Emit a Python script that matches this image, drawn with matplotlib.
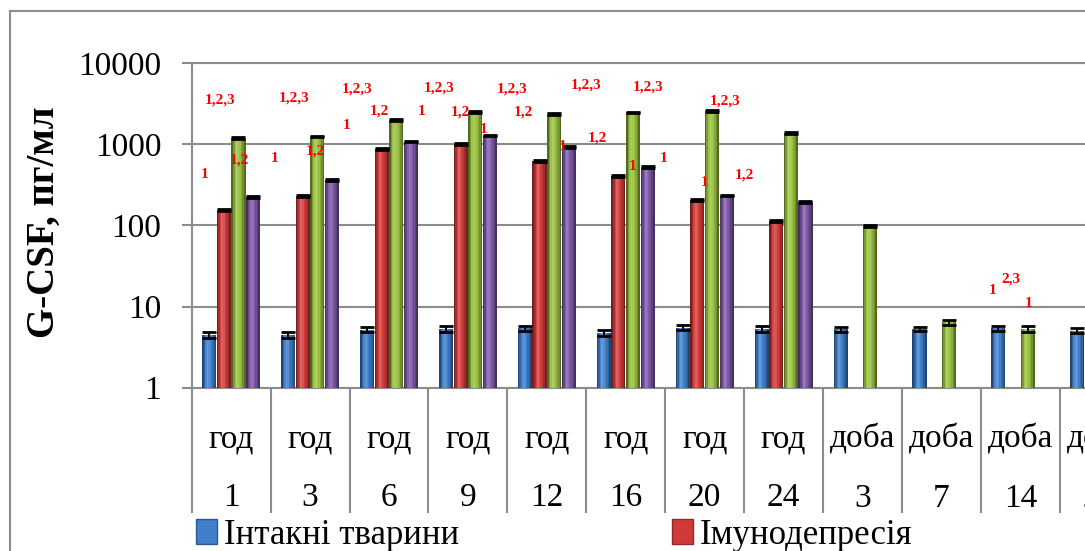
import numpy as np
import matplotlib
matplotlib.use('Agg')
import matplotlib.pyplot as plt
from matplotlib.patches import Rectangle, Patch
import matplotlib.colors as mcolors
import matplotlib.ticker as mticker

plt.rcParams['font.family'] = ['Liberation Serif', 'DejaVu Serif']

# категорії
одиниці = ['год'] * 8 + ['доба'] * 4
час = ['1', '3', '6', '9', '12', '16', '20', '24', '3', '7', '14', '21']

# G-CSF, пг/мл
intact = [4.5, 4.5, 5.2, 5.3, 5.4, 4.7, 5.5, 5.3, 5.25, 5.3, 5.4, 5.05]
immuno = [154, 229, 873, 1014, 627, 408, 207, 115, np.nan, np.nan, np.nan, np.nan]
green = [1212, 1247, 1995, 2520, 2367, 2483, 2560, 1380, 98, 6.4, 5.3, np.nan]
purple = [227, 364, 1082, 1282, 925, 525, 234, 193, np.nan, np.nan, np.nan, np.nan]

err_intact = [0.4, 0.4, 0.4, 0.4, 0.4, 0.4, 0.4, 0.4, 0.35, 0.35, 0.35, 0.35]
err_immuno = [4, 6, 20, 25, 15, 10, 5, 3, np.nan, np.nan, np.nan, np.nan]
err_green = [30, 30, 50, 60, 55, 60, 60, 35, 2, 0.5, 0.5, np.nan]
err_purple = [6, 9, 25, 30, 22, 12, 6, 5, np.nan, np.nan, np.nan, np.nan]

# позначки достовірності: текст, позиція по x (у категоріях), рівень по y
мітки = ['1,2,3', '1', '1,2',
         '1,2,3', '1', '1,2',
         '1,2,3', '1', '1,2',
         '1', '1,2,3', '1,2', '1',
         '1,2,3', '1,2', '1',
         '1,2,3', '1,2',
         '1,2,3', '1', '1',
         '1,2,3', '1', '1,2',
         '1', '2,3', '1']
мітки_x = [-0.136, -0.335, 0.108,
           0.793, 0.552, 1.068,
           1.600, 1.461, 1.883,
           2.411, 2.631, 2.909, 3.201,
           3.556, 3.708, 4.202,
           4.494, 4.646,
           5.279, 5.086, 5.482,
           6.255, 6.002, 6.509,
           9.648, 9.876, 10.108]
мітки_y = [3516, 423, 645,
           3722, 664, 839,
           4756, 1687, 2600,
           2525, 4896, 2525, 1506,
           4756, 2484, 940,
           5370, 1191,
           5117, 534, 664,
           3420, 340, 423,
           15.6, 21.7, 11.0]

W, H = 1085, 551
fig = plt.figure(figsize=(W / 100, H / 100), dpi=100)
ax = fig.add_axes([191.7 / W, 1 - 387.7 / H, 947 / W, 324.4 / H])


def shade(col, k):
    # k<0 темніше, k>0 світліше
    c = np.array(mcolors.to_rgb(col))
    if k < 0:
        return tuple(c * (1 + k))
    return tuple(c + (1 - c) * k)


x = np.arange(len(час))
w = 0.185
bw = w * 0.96
n_strip = 9
profile = [-0.45, -0.2, 0.05, 0.2, 0.12, 0.0, -0.12, -0.25, -0.45]
series = [(intact, err_intact, '#3f7fcc'),
          (immuno, err_immuno, '#d23a3a'),
          (green, err_green, '#98c03e'),
          (purple, err_purple, '#7d58a8')]
for i, (vals, err, col) in enumerate(series):
    pos = x + (i - 1.5) * w
    for j in range(n_strip):
        off = -bw / 2 + (j + 0.5) * bw / n_strip
        ax.bar(pos + off, vals, width=bw / n_strip * 1.05, color=shade(col, profile[j]),
               linewidth=0, zorder=3)
    ax.errorbar(pos, vals, yerr=err, fmt='none', ecolor='black',
                elinewidth=1.5, capsize=5, capthick=2, zorder=4)

ax.set_yscale('log')
ax.set_ylim(1, 10000)
ax.set_xlim(-0.5, len(час) - 0.5)
ax.yaxis.set_major_locator(mticker.FixedLocator([1, 10, 100, 1000, 10000]))
ax.yaxis.set_minor_locator(mticker.NullLocator())
ax.yaxis.set_major_formatter(mticker.FuncFormatter(lambda v, p: '{:d}'.format(int(round(v)))))
ax.tick_params(axis='y', length=7, width=1.5, color='#8c8c8c', labelsize=24, pad=15)
ax.yaxis.grid(True, color='#8c8c8c', linewidth=1.5, zorder=0)

ax.set_xticks(np.arange(-0.5, len(час)), minor=False)
ax.set_xticklabels([])
ax.set_xticks(x, minor=True)
ax.set_xticklabels([u + '\n' + t for u, t in zip(одиниці, час)], minor=True,
                   fontsize=24, linespacing=2.2)
ax.tick_params(axis='x', which='major', length=90, width=1.5, color='#8c8c8c', direction='out')
ax.tick_params(axis='x', which='minor', length=0, pad=26)

for s in ['left', 'bottom', 'top']:
    ax.spines[s].set_color('#8c8c8c')
    ax.spines[s].set_linewidth(1.5)
ax.spines['right'].set_visible(False)

ax.set_ylabel('G-CSF, пг/мл', fontsize=28, fontweight='bold')
ax.yaxis.set_label_coords((63 - 191.7) / 947, (387.7 - 222) / 324.4)

for t, tx, ty in zip(мітки, мітки_x, мітки_y):
    ax.text(tx, ty, t, color='red', fontsize=11, fontweight='bold',
            ha='center', va='center', zorder=5)

fig.patches.append(Rectangle((10 / W, -0.1), 2, 1 - 11 / H + 0.1, transform=fig.transFigure,
                             fill=False, edgecolor='#8c8c8c', linewidth=1.5))

for lab, col, lx in [('Інтакні тварини', '#3f7fcc', 196), ('Імунодепресія', '#d23a3a', 672)]:
    fig.legend([Patch(facecolor=col, edgecolor=shade(col, -0.3))], [lab], loc='center left',
               bbox_to_anchor=(lx / W, 1 - 535 / H), frameon=False,
               prop={'family': ['Liberation Serif', 'DejaVu Serif'], 'size': 25},
               handlelength=0.6, handleheight=0.75, handletextpad=0.2,
               borderpad=0, borderaxespad=0)

fig.savefig('out.png', dpi=100)
